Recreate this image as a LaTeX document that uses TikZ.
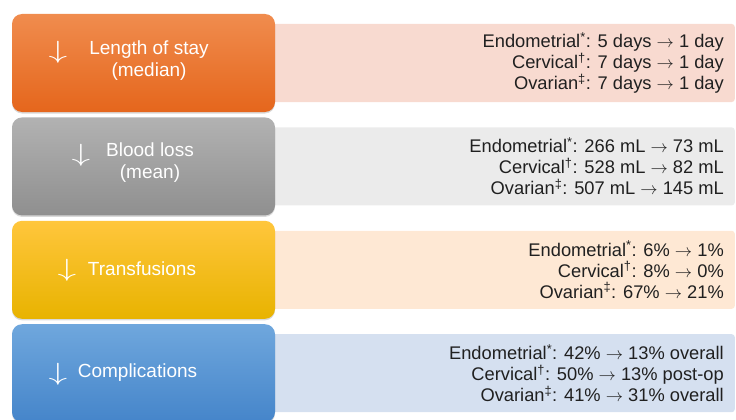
\documentclass[tikz,border=0pt]{standalone}
\usepackage{fontspec}
\setmainfont{Liberation Sans}
\usetikzlibrary{positioning,shadows,backgrounds}

\definecolor{stayTop}{HTML}{F08C4E}
\definecolor{stayMid}{HTML}{F47B2A}
\definecolor{stayBot}{HTML}{E5661C}
\definecolor{bloodTop}{HTML}{B2B2B2}
\definecolor{bloodMid}{HTML}{A2A2A2}
\definecolor{bloodBot}{HTML}{8F8F8F}
\definecolor{transTop}{HTML}{FFC63C}
\definecolor{transMid}{HTML}{FFC700}
\definecolor{transBot}{HTML}{E8B300}
\definecolor{compTop}{HTML}{6FA7DD}
\definecolor{compMid}{HTML}{5799DA}
\definecolor{compBot}{HTML}{4585CA}
\definecolor{stayBg}{HTML}{F8DAD0}
\definecolor{bloodBg}{HTML}{EBEBEB}
\definecolor{transBg}{HTML}{FEE8D4}
\definecolor{compBg}{HTML}{D5E0F0}
\definecolor{txt}{HTML}{202020}

\newcommand{\goesto}{ $\rightarrow$ }

\begin{document}
\begin{tikzpicture}[
x=1pt, y=1pt,
node distance=5pt,
box/.style={rectangle, rounded corners=10pt, minimum width=263pt, minimum height=98pt, inner sep=0pt,
  drop shadow={opacity=0.3, shadow xshift=0pt, shadow yshift=-1.5pt}},
panel/.style={rectangle, rounded corners=3pt, minimum width=470pt, minimum height=78pt, inner sep=0pt, anchor=east},
head/.style={text=white, align=center, inner sep=0pt, font=\fontsize{19}{22}\selectfont},
down/.style={text=white, inner sep=0pt, xscale=1.5, transform shape, font=\fontsize{31}{31}\selectfont},
facts/.style={text=txt, align=right, anchor=east, inner sep=0pt, font=\fontsize{18.3}{21}\selectfont}
]
\useasboundingbox (0,0) rectangle (736,-420);
\coordinate (edge) at (735,0);

% coloured boxes on the left
\node[box, top color=stayTop, middle color=stayMid, bottom color=stayBot] (stay) at (143.5,-63) {};
\node[box, top color=bloodTop, middle color=bloodMid, bottom color=bloodBot, below=of stay] (blood) {};
\node[box, top color=transTop, middle color=transMid, bottom color=transBot, below=of blood] (trans) {};
\node[box, top color=compTop, middle color=compMid, bottom color=compBot, below=of trans] (comp) {};

% light panels behind
\begin{scope}[on background layer]
\node[panel, fill=stayBg] (stayp) at (stay -| edge) {};
\node[panel, fill=bloodBg] (bloodp) at (blood -| edge) {};
\node[panel, fill=transBg] (transp) at (trans -| edge) {};
\node[panel, fill=compBg] (compp) at (comp -| edge) {};
\end{scope}

% box labels
\node[head] (stayl) at ([shift={(5.5,2)}]stay.center) {Length of stay\\(median)};
\node[down] (staya) at ([shift={(-85.5,11)}]stay.center) {$\downarrow$};
\node[head] (bloodl) at ([shift={(6.5,3.5)}]blood.center) {Blood loss\\(mean)};
\node[down] (blooda) at ([shift={(-62.5,11.5)}]blood.center) {$\downarrow$};
\node[head] (transl) at ([shift={(-1.5,1)}]trans.center) {Transfusions};
\node[down] (transa) at ([shift={(-76.5,0)}]trans.center) {$\downarrow$};
\node[head] (compl) at ([shift={(-6,0.5)}]comp.center) {Complications};
\node[down] (compa) at ([shift={(-85.5,-1.5)}]comp.center) {$\downarrow$};

% figures on the right
\node[facts] (stayt) at ([xshift=-11pt]stayp.east) {Endometrial\textsuperscript{*}: 5 days\goesto1 day\\Cervical\textsuperscript{†}: 7 days\goesto1 day\\Ovarian\textsuperscript{‡}: 7 days\goesto1 day};
\node[facts] (bloodt) at ([xshift=-11pt]bloodp.east) {Endometrial\textsuperscript{*}: 266 mL\goesto73 mL\\Cervical\textsuperscript{†}: 528 mL\goesto82 mL\\Ovarian\textsuperscript{‡}: 507 mL\goesto145 mL};
\node[facts] (transt) at ([xshift=-11pt]transp.east) {Endometrial\textsuperscript{*}: 6\%\goesto1\%\\Cervical\textsuperscript{†}: 8\%\goesto0\%\\Ovarian\textsuperscript{‡}: 67\%\goesto21\%};
\node[facts] (compt) at ([xshift=-11pt]compp.east) {Endometrial\textsuperscript{*}: 42\%\goesto13\% overall\\Cervical\textsuperscript{†}: 50\%\goesto13\% post-op\\Ovarian\textsuperscript{‡}: 41\%\goesto31\% overall};
\end{tikzpicture}
\end{document}
